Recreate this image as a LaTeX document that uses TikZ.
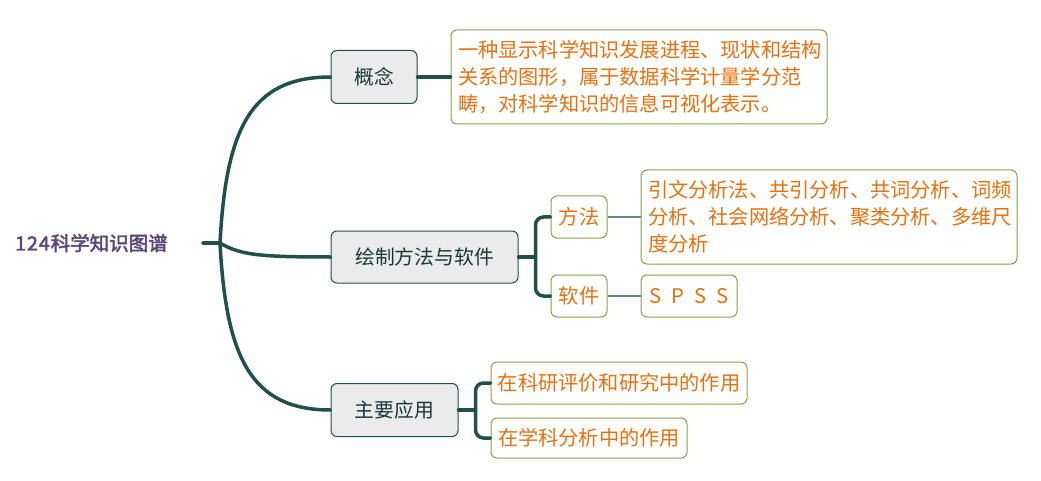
\documentclass[tikz,border=0pt]{standalone}
\usepackage{fontspec}
\setmainfont{Noto Sans CJK SC}
\newfontfamily\rootfont[FakeBold=2.5]{Noto Sans CJK SC}
\usepackage{xcolor}

\definecolor{branch}{HTML}{1F5049}
\definecolor{boxgray}{HTML}{EBEBEB}
\definecolor{leafline}{HTML}{86A04A}
\definecolor{leaftext}{HTML}{E8700E}
\definecolor{thinline}{HTML}{5F8981}
\definecolor{rootcol}{HTML}{5A4878}

\begin{document}
\begin{tikzpicture}[x=1pt,y=-1pt,
	mainbox/.style={draw=branch, fill=boxgray, rounded corners=6pt, line width=1pt, inner sep=0pt,
		text=branch!70!black, font=\fontsize{19.8}{22}\selectfont},
	leafbox/.style={draw=leafline, fill=white, rounded corners=6pt, line width=1pt, inner sep=0pt,
		text=leaftext, font=\fontsize{20.2}{27}\selectfont},
	textbox/.style={leafbox, inner xsep=7pt, text width=362pt, minimum height=94pt, align=left},
	trunk/.style={draw=branch, line width=3.5pt, line cap=round},
	twig/.style={draw=thinline, line width=1.5pt}]
	% Canvas
	\useasboundingbox (0,0) rectangle (1041,481);
	
	% Root
	\node (root) at (91.5,243) [text=rootcol, font=\rootfont\fontsize{19.5}{22}\selectfont] {1\kern1pt2\kern1pt4\kern1pt科学知识图谱};
	\coordinate (stub) at (203,243);
	\coordinate (hub) at (220,243);
	
	% First level
	\node (concept) at (374,77) [mainbox, minimum width=86pt, minimum height=53pt] {概念};
	\node (drawing) at (424.5,257) [mainbox, minimum width=187pt, minimum height=52pt] {绘制方法与软件};
	\node (apply) at (394.5,410) [mainbox, minimum width=127pt, minimum height=53pt] {主要应用};
	
	% Second level
	\node (conceptText) at (639,77) [textbox] {一种显示科学知识发展进程、现状和结构\\关系的图形，属于数据科学计量学分范\\畴，对科学知识的信息可视化表示。};
	\node (method) at (579,217) [leafbox, minimum width=56pt, minimum height=42pt] {方法};
	\node (soft) at (579,296) [leafbox, minimum width=56pt, minimum height=42pt] {软件};
	\node (app1) at (619,383) [leafbox, minimum width=256pt, minimum height=42pt] {在科研评价和研究中的作用};
	\node (app2) at (589,438) [leafbox, minimum width=196pt, minimum height=40pt] {在学科分析中的作用};
	
	% Third level
	\node (methodText) at (829,217) [textbox] {引文分析法、共引分析、共词分析、词频\\分析、社会网络分析、聚类分析、多维尺\\度分析};
	\node (spss) at (689,296) [leafbox, minimum width=96pt, minimum height=42pt] {S\hspace{0.5em}P\hspace{0.5em}S\hspace{0.5em}S};
	
	% Trunk curves
	\draw[trunk] (stub) -- (hub);
	\draw[trunk] (hub) .. controls (226,130) and (250,77) .. (concept.west);
	\draw[trunk] (hub) .. controls (240,255) and (260,257) .. (drawing.west);
	\draw[trunk] (hub) .. controls (226,356) and (250,410) .. (apply.west);
	\draw[trunk] (concept.east) -- (conceptText.west);
	
	% Brackets
	\draw[trunk] (drawing.east) -- ([xshift=17pt]drawing.east);
	\draw[trunk, rounded corners=8pt] (method.west) -| ([xshift=17pt]drawing.east) |- (soft.west);
	\draw[trunk] (apply.east) -- ([xshift=17pt]apply.east);
	\draw[trunk, rounded corners=8pt] (app1.west) -| ([xshift=17pt]apply.east) |- (app2.west);
	
	% Leaf links
	\draw[twig] (method.east) -- (methodText.west);
	\draw[twig] (soft.east) -- (spss.west);
\end{tikzpicture}
\end{document}
